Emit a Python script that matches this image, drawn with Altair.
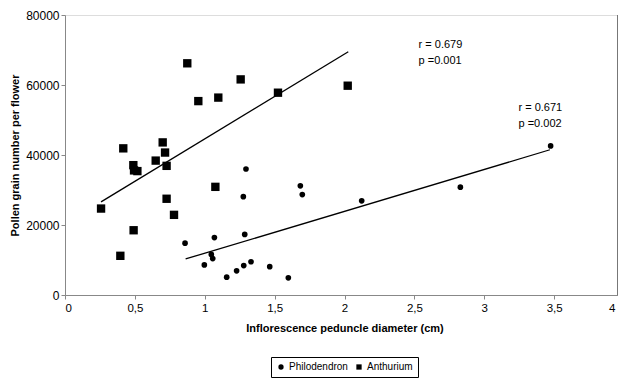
import altair as alt
import pandas as pd

# Anthurium (squares)
anth_x = [0.875, 1.257, 0.954, 1.097, 1.524, 2.023, 0.417, 0.699, 0.716, 0.649,
          0.489, 0.518, 0.494, 0.727, 1.076, 0.727, 0.258, 0.780, 0.491, 0.396]
anth_y = [66200, 61600, 55400, 56400, 57800, 59800, 41900, 43600, 40700, 38400,
          37100, 35400, 35600, 36900, 30900, 27500, 24700, 22900, 18500, 11200]

# Philodendron (circles)
phil_x = [1.295, 0.859, 1.276, 1.069, 1.286, 1.047, 1.057, 0.997, 1.157, 1.228,
          1.279, 1.331, 1.465, 1.598, 1.684, 1.698, 2.123, 2.829, 3.475]
phil_y = [36000, 14800, 28100, 16400, 17300, 11600, 10400, 8600, 5100, 6900,
          8400, 9500, 8100, 4900, 31200, 28700, 26900, 30800, 42600]

# Trend lines (end points)
trend_species = ["Anthurium", "Anthurium", "Philodendron", "Philodendron"]
trend_x = [0.258, 2.027, 0.863, 3.47]
trend_y = [26600, 69500, 10300, 41500]

# Annotations
note_text = ["r = 0.679", "p =0.001", "r = 0.671", "p =0.002"]
note_x = [2.53, 2.53, 3.245, 3.245]
note_y = [71400, 66900, 53400, 48900]

x_ticks = [0, 0.5, 1, 1.5, 2, 2.5, 3, 3.5, 4]
y_ticks = [0, 10000, 20000, 30000, 40000, 50000, 60000, 70000, 80000]

FONT = "Liberation Sans"

pts = pd.DataFrame({
    "x": phil_x + anth_x,
    "y": phil_y + anth_y,
    "species": ["Philodendron"] * len(phil_x) + ["Anthurium"] * len(anth_x),
})
trend = pd.DataFrame({"x": trend_x, "y": trend_y, "species": trend_species})
notes = pd.DataFrame({"x": note_x, "y": note_y, "t": note_text})

xscale = alt.Scale(domain=[0, 4], nice=False)
yscale = alt.Scale(domain=[0, 80000], nice=False)

xaxis = alt.Axis(values=x_ticks, format=".1~f",
                 labelExpr="replace(datum.label, '.', ',')",
                 labelOffset={"condition": {"test": "datum.value == 4", "value": -9}, "value": 0},
                 title="Inflorescence peduncle diameter (cm)", grid=False,
                 tickSize=4, labelPadding=3, titlePadding=9, labelFontSize=11.5)
yaxis = alt.Axis(values=y_ticks, format="d",
                 title="Pollen grain number per flower", grid=False,
                 tickSize=4, labelPadding=2, titlePadding=5, labelFontSize=12)

shape_scale = alt.Scale(domain=["Philodendron", "Anthurium"], range=["circle", "square"])
legend = alt.Legend(title=None, orient="none", legendX=206, legendY=342,
                    direction="horizontal", strokeColor="black", fillColor="white",
                    padding=5, cornerRadius=0, symbolSize=28, symbolFillColor="black",
                    symbolStrokeColor="black", symbolStrokeWidth=0,
                    labelFontSize=10, labelFont=FONT, columnPadding=6, labelOffset=3)

base = alt.Chart(pts)

phil_layer = base.transform_filter(alt.datum.species == "Philodendron").mark_point(
    filled=True, color="black", opacity=1).encode(
    x=alt.X("x:Q", scale=xscale, axis=xaxis),
    y=alt.Y("y:Q", scale=yscale, axis=yaxis),
    shape=alt.Shape("species:N", scale=shape_scale, legend=legend),
    size=alt.value(32),
)
anth_layer = base.transform_filter(alt.datum.species == "Anthurium").mark_point(
    filled=True, color="black", opacity=1).encode(
    x=alt.X("x:Q", scale=xscale),
    y=alt.Y("y:Q", scale=yscale),
    shape=alt.Shape("species:N", scale=shape_scale, legend=legend),
    size=alt.value(70),
)
lines = alt.Chart(trend).mark_line(color="black", strokeWidth=1.3).encode(
    x=alt.X("x:Q", scale=xscale),
    y=alt.Y("y:Q", scale=yscale),
    detail="species:N",
)
text = alt.Chart(notes).mark_text(align="left", baseline="middle", fontSize=11,
                                  font=FONT, color="black").encode(
    x=alt.X("x:Q", scale=xscale),
    y=alt.Y("y:Q", scale=yscale),
    text="t:N",
)
# right-hand frame line at the visible edge of the page
frame = alt.Chart(notes).mark_rule(color="#777", strokeWidth=1).encode(
    x=alt.value(552.5), y=alt.value(0), y2=alt.value(280)
)

chart = alt.layer(lines, anth_layer, phil_layer, text, frame).properties(
    width=559, height=280,
    autosize=alt.AutoSizeParams(type="none"),
    padding={"left": 57, "top": 7, "right": -6, "bottom": 84},
).configure_view(
    stroke="#777", strokeWidth=1
).configure_axis(
    domainColor="black", tickColor="black", labelColor="black", titleColor="black",
    labelFont=FONT, titleFont=FONT, labelFontSize=11, titleFontSize=11,
    titleFontWeight="bold", domainWidth=1
).configure(background="white")

chart.save("out.html", embed_options={"renderer": "svg", "actions": False})
